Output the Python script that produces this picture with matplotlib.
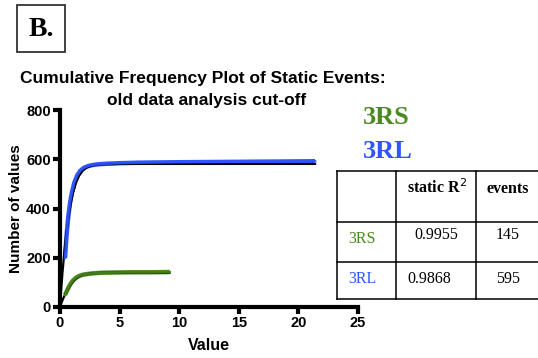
import matplotlib
matplotlib.use("Agg")
import matplotlib.pyplot as plt
from matplotlib.patches import Rectangle

# --- data -------------------------------------------------------------
rl_x = [0.42, 0.55, 0.7, 0.85, 1.0, 1.2, 1.45, 1.7, 2.0, 2.4, 2.8, 3.3, 4.0, 5.0, 6.5, 8.0, 10.0, 13.0, 16.0, 19.0, 21.4]
rl_y = [199, 290, 370, 425, 465, 505, 535, 553, 565, 573, 577, 580, 582, 584, 586, 587, 588, 589, 590, 591, 592]

rl_fit_x = [0.0, 0.1, 0.2, 0.35, 0.5, 0.7, 0.9, 1.1, 1.35, 1.6, 1.9, 2.2, 2.6, 3.0, 3.5, 4.0, 5.0, 7.0, 10.0, 15.0, 21.4]
rl_fit_y = [0, 70, 135, 215, 285, 360, 420, 465, 505, 533, 553, 565, 573, 577, 579, 580, 581, 581, 581, 581, 581]

rs_x = [0.42, 0.55, 0.7, 0.9, 1.1, 1.35, 1.6, 1.9, 2.3, 2.8, 3.5, 4.5, 6.0, 7.5, 9.2]
rs_y = [49, 62, 78, 95, 108, 119, 126, 131, 134, 137, 139, 140, 141, 141, 142]

rs_fit_x = [0.0, 0.15, 0.3, 0.5, 0.7, 0.9, 1.1, 1.35, 1.6, 1.9, 2.3, 2.8, 3.5, 4.5, 6.0, 9.2]
rs_fit_y = [0, 20, 38, 58, 76, 92, 105, 116, 124, 130, 134, 137, 139, 140, 140, 140]

x_ticks = [0, 5, 10, 15, 20, 25]
y_ticks = [0, 200, 400, 600, 800]

table_header = ["", "static R$^{2}$", "events"]
table_rows = [["3RS", "0.9955", "145"],
              ["3RL", "0.9868", "595"]]

GREEN = "#4a8a1e"
BLUE = "#2f55ff"

W, H = 538, 358
fig = plt.figure(figsize=(W / 100, H / 100), dpi=100)


def fx(px):
    return px / W


def fy(py):
    return 1 - py / H


# --- panel letter ------------------------------------------------------
fig.patches.append(Rectangle((fx(17), fy(52)), fx(65) - fx(17), fy(5) - fy(52),
                             transform=fig.transFigure, fill=False,
                             edgecolor="#333333", linewidth=1.3))
fig.text(fx(41), fy(29), "B.", family="Liberation Serif", weight="bold",
         fontsize=20, ha="center", va="center")

# --- title -------------------------------------------------------------
fig.text(fx(203), fy(79), "Cumulative Frequency Plot of Static Events:",
         family="Liberation Sans", weight="bold", fontsize=12.5,
         ha="center", va="center")
fig.text(fx(207), fy(100), "old data analysis cut-off",
         family="Liberation Sans", weight="bold", fontsize=12.5,
         ha="center", va="center")

# --- main plot ---------------------------------------------------------
ax = fig.add_axes([fx(60), fy(307), fx(358) - fx(60), fy(110) - fy(307)])
ax.plot(rl_x, rl_y, color=BLUE, lw=3.2, solid_capstyle="butt", zorder=2)
ax.plot(rl_fit_x, rl_fit_y, color="black", lw=1.6, zorder=3)
ax.plot(rl_x, rl_y, color=BLUE, lw=1.8, zorder=4, alpha=0.9)
ax.plot(rs_x, rs_y, color=GREEN, lw=3.2, solid_capstyle="butt", zorder=2)
ax.plot(rs_fit_x, rs_fit_y, color="black", lw=1.6, zorder=3)
ax.plot(rs_x, rs_y, color=GREEN, lw=1.8, zorder=4, alpha=0.9)

ax.set_xlim(0, 25)
ax.set_ylim(0, 800)
ax.set_xticks(x_ticks)
ax.set_yticks(y_ticks)
for s in ("top", "right"):
    ax.spines[s].set_visible(False)
for s in ("left", "bottom"):
    ax.spines[s].set_linewidth(3)
ax.tick_params(width=3, length=5, direction="out", pad=1.5)
for lab in ax.get_xticklabels() + ax.get_yticklabels():
    lab.set_family("Liberation Sans")
    lab.set_weight("bold")
    lab.set_fontsize(10.5)
ax.set_xlabel("Value", family="Liberation Sans", weight="bold", fontsize=11.5, labelpad=6)
ax.set_ylabel("Number of values", family="Liberation Sans", weight="bold", fontsize=11, labelpad=2)

# --- series labels -----------------------------------------------------
fig.text(fx(363), fy(117), "3RS", color=GREEN, family="Liberation Serif",
         weight="bold", fontsize=19, ha="left", va="center")
fig.text(fx(363), fy(152), "3RL", color=BLUE, family="Liberation Serif",
         weight="bold", fontsize=19, ha="left", va="center")

# --- summary table -----------------------------------------------------
tx0, tx1 = 337, 540
ty0, ty1 = 171, 299
col_x = [337, 396, 476, 540]
row_y = [171, 222, 262, 299]
tax = fig.add_axes([fx(tx0), fy(ty1), fx(tx1) - fx(tx0), fy(ty0) - fy(ty1)])
tax.set_xlim(tx0, tx1)
tax.set_ylim(ty1, ty0)
tax.axis("off")
for yv in row_y:
    tax.plot([tx0, tx1], [yv, yv], color="black", lw=1.1, clip_on=False)
for xv in col_x[:-1]:
    tax.plot([xv, xv], [ty0, ty1], color="black", lw=1.1, clip_on=False)

tfont = dict(family="Liberation Serif", fontsize=11.5, va="center")
tax.text(437, 188, table_header[1], ha="center", weight="bold", **tfont)
tax.text(508, 189, table_header[2], ha="center", weight="bold", **tfont)

row_colors = [GREEN, BLUE]
row_text_y = [239, 279]
for r, (row, c, yv) in enumerate(zip(table_rows, row_colors, row_text_y)):
    tax.text(348, yv, row[0], ha="left", color=c, **tfont)
    if r == 0:
        tax.text(436, yv - 4, row[1], ha="center", **tfont)
        tax.text(508, yv - 4, row[2], ha="center", **tfont)
    else:
        tax.text(407, yv, row[1], ha="left", **tfont)
        tax.text(508, yv, row[2], ha="center", **tfont)

fig.savefig("out.png", dpi=100)
